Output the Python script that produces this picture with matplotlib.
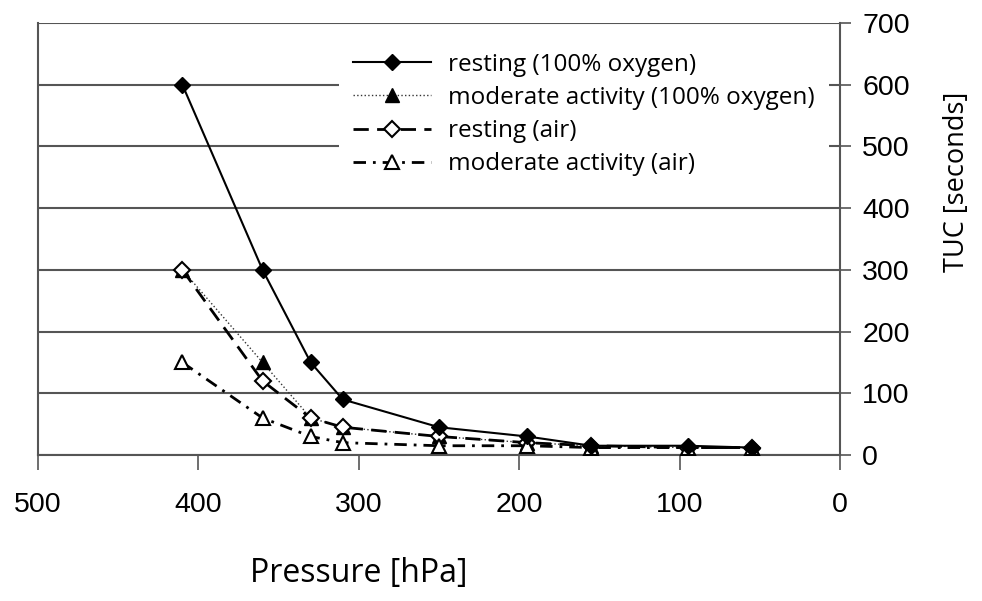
import numpy as np
import matplotlib
matplotlib.use('Agg')
import matplotlib.pyplot as plt

plt.rcParams['font.family'] = 'Liberation Sans'

# Time of useful consciousness vs. pressure
pressure = [410, 360, 330, 310, 250, 195, 155, 95, 55]
rest_o2 = [600, 300, 150, 90, 45, 30, 15, 15, 12]
mod_o2 = [300, 150, 60, 45, 30, 20, 15, 12, 12]
rest_air = [300, 120, 60, 45, 30, 20, 15, 12, 12]
mod_air = [150, 60, 30, 20, 15, 15, 12, 12, 12]

x_ticks = [500, 400, 300, 200, 100, 0]
y_ticks = [0, 100, 200, 300, 400, 500, 600, 700]

labels = ['resting (100% oxygen)', 'moderate activity (100% oxygen)',
          'resting (air)', 'moderate activity (air)']

fig = plt.figure(figsize=(9.82, 6.01), dpi=100)
ax = fig.add_axes([38/982, 1-455/601, (840-38)/982, (455-23)/601])

grey = '#555555'
for y in y_ticks:
    ax.axhline(y, color=grey, lw=1.5, zorder=0)

ax.plot(pressure, rest_o2, '-', color='black', lw=1.5, marker='D', ms=8,
        mfc='black', mec='black', label=labels[0], zorder=5)
ax.plot(pressure, mod_o2, ':', color='#333333', lw=1, marker='^', ms=10,
        mfc='black', mec='black', label=labels[1], zorder=4)
ax.plot(pressure, rest_air, color='black', lw=2, dashes=(5.5, 3), marker='D', ms=8,
        mfc='white', mec='black', mew=1.5, label=labels[2], zorder=4)
ax.plot(pressure, mod_air, color='black', lw=2, dashes=(4.5, 2.5, 1, 2.5), marker='^',
        ms=10, mfc='white', mec='black', mew=1.5, label=labels[3], zorder=4)

ax.set_xlim(500, 0)
ax.set_ylim(0, 700)
ax.set_xticks(x_ticks)
ax.set_yticks(y_ticks)

for s in ['left', 'right', 'bottom']:
    ax.spines[s].set_color(grey)
    ax.spines[s].set_linewidth(1.5)
ax.spines['top'].set_visible(False)

ax.yaxis.tick_right()
ax.yaxis.set_label_position('right')
ax.tick_params(axis='y', direction='out', length=8, width=1.2, color=grey, pad=8,
               labelsize=20.5)
ax.tick_params(axis='x', direction='out', length=11, width=1.2, color=grey, pad=16,
               labelsize=20.5)

ax.set_xlabel('Pressure [hPa]', fontsize=23, family='Open Sans')
ax.xaxis.set_label_coords(0.40, -0.235)
ax.set_ylabel('TUC [seconds]', fontsize=19.5, family='Open Sans')
ax.yaxis.set_label_coords(1.128, 0.632)

leg = ax.legend(loc='upper left', bbox_to_anchor=(0.375, 0.965), frameon=True,
                fancybox=False, edgecolor='none', facecolor='white', framealpha=1,
                handlelength=3.2, handletextpad=0.7, labelspacing=0.38,
                borderaxespad=0, borderpad=0.6,
                prop={'family': 'Open Sans', 'size': 17.5})
leg.set_zorder(6)

fig.savefig('out.png', dpi=100)
